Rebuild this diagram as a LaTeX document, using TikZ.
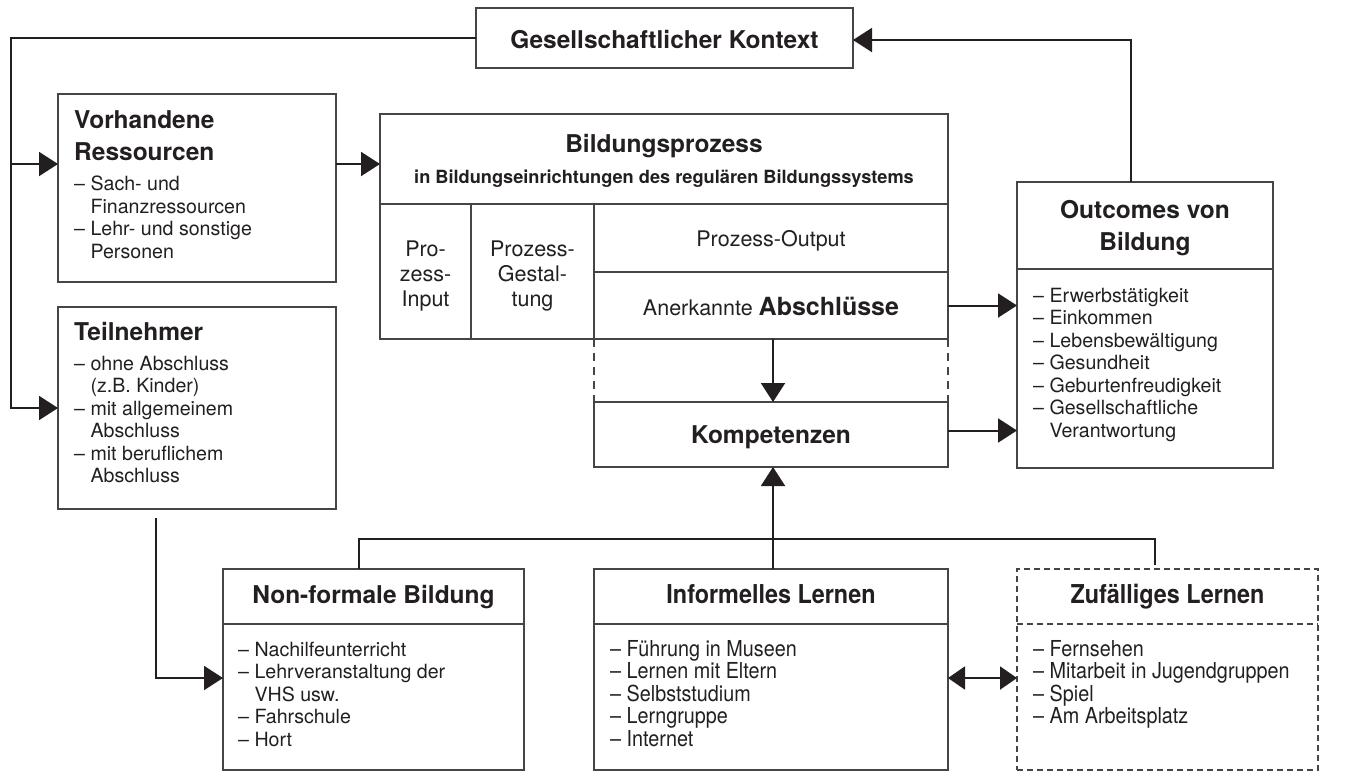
\documentclass[tikz,border=0pt]{standalone}
\usepackage{fontspec}
\setmainfont{TeX Gyre Heros}
\newfontfamily\condfont[FakeStretch=0.9]{TeX Gyre Heros}
\usetikzlibrary{arrows.meta}
\definecolor{ink}{HTML}{231F20}
\definecolor{frame}{HTML}{454545}
\newcommand\ind{\hphantom{– }}
\tikzset{
  boxframe/.style={draw=frame, line width=1.6pt, inner sep=0pt, outer sep=0pt, anchor=north west},
  dashframe/.style={boxframe, line width=1.4pt, dash pattern=on 6pt off 4pt},
  conn/.style={draw=ink, line width=2pt},
  dashconn/.style={draw=frame, line width=1.4pt, dash pattern=on 8pt off 6pt},
  arr/.style={conn, -{Triangle[length=19pt,width=24pt]}},
  darr/.style={conn, {Triangle[length=17pt,width=23pt]}-{Triangle[length=17pt,width=23pt]}},
  ttl/.style={inner sep=0pt, text=ink, font=\fontsize{24.5}{32}\selectfont\bfseries, anchor=base},
  cttl/.style={inner sep=0pt, text=ink, font=\fontsize{26}{32}\selectfont\condfont\bfseries, anchor=base},
  body/.style={inner sep=0pt, text=ink, font=\fontsize{19.6}{22.7}\selectfont, anchor=base west},
  cbody/.style={inner sep=0pt, text=ink, font=\fontsize{22}{22.7}\selectfont\condfont, anchor=base west},
  mid/.style={inner sep=0pt, text=ink, font=\fontsize{21.5}{25}\selectfont, anchor=base},
}
\newcommand\itemlines[5]{%
  \foreach \t [count=\i] in {#5} {\node[#1] (#2-\i) at (#3, {#4+(\i-1)*22.5}) {\t};}%
}
\begin{document}
\begin{tikzpicture}[x=1pt, y=-1pt]
\useasboundingbox (0,0) rectangle (1348,772);

% ---------- boxes ----------
\node[boxframe, minimum width=377pt, minimum height=60pt] (kontext) at (476,8) {};
\node[boxframe, minimum width=278pt, minimum height=188pt] (vorh) at (58,94) {};
\node[boxframe, minimum width=278pt, minimum height=202pt] (teil) at (58,307) {};

\node[boxframe, minimum width=568pt, minimum height=90pt] (bild) at (380,114) {};
\node[boxframe, minimum width=91pt, minimum height=135pt] (cin) at (380,204) {};
\node[boxframe, minimum width=123pt, minimum height=135pt] (cge) at (471,204) {};
\node[boxframe, minimum width=354pt, minimum height=68pt] (cout) at (594,204) {};
\node[boxframe, minimum width=354pt, minimum height=67pt] (absch) at (594,272) {};
\node[boxframe, minimum width=354pt, minimum height=65pt] (komp) at (594,402) {};

\node[boxframe, minimum width=256pt, minimum height=87pt] (outh) at (1017,182) {};
\node[boxframe, minimum width=256pt, minimum height=199pt] (outb) at (1017,269) {};

\node[boxframe, minimum width=301pt, minimum height=201pt] (nonf) at (223,569) {};
\node[boxframe, minimum width=354pt, minimum height=201pt] (info) at (594,569) {};
\node[dashframe, minimum width=301pt, minimum height=201pt] (zuf) at (1017,569) {};
\draw[boxframe] (nonf.west |- 0,624) -- (nonf.east |- 0,624);
\draw[boxframe] (info.west |- 0,624) -- (info.east |- 0,624);
\draw[dashframe] (zuf.west |- 0,624) -- (zuf.east |- 0,624);

% ---------- texts ----------
\node[ttl] (tkontext) at (664.5,48) {Gesellschaftlicher Kontext};

\node[ttl, anchor=base west] (tvorh1) at (74,128) {Vorhandene};
\node[ttl, anchor=base west] (tvorh2) at (74,160) {Ressourcen};
\itemlines{body}{lvorh}{74}{190.7}{{– Sach- und},{\ind Finanzressourcen},{– Lehr- und sonstige},{\ind Personen}}

\node[ttl, anchor=base west] (tteil) at (74,340) {Teilnehmer};
\itemlines{body}{lteil}{74}{370}{{– ohne Abschluss},{\ind (z.B. Kinder)},{– mit allgemeinem},{\ind Abschluss},{– mit beruflichem},{\ind Abschluss}}

\node[ttl] (tbild) at (664,152) {Bildungsprozess};
\node[inner sep=0pt, text=ink, font=\fontsize{18.2}{22}\selectfont\bfseries, anchor=base] (tbild2) at (664,183) {in Bildungseinrichtungen des regulären Bildungssystems};

\node[mid] (tin1) at (425.5,256) {Pro-};
\node[mid] (tin2) at (425.5,281) {zess-};
\node[mid] (tin3) at (425.5,306) {Input};
\node[mid] (tge1) at (532.5,256) {Prozess-};
\node[mid] (tge2) at (532.5,281) {Gestal-};
\node[mid] (tge3) at (532.5,306) {tung};
\node[mid] (tout) at (771,246) {Prozess-Output};
\node[mid] (tabs) at (771,315) {Anerkannte {\fontsize{25}{30}\selectfont\bfseries Abschlüsse}};
\node[ttl] (tkomp) at (771,443) {Kompetenzen};

\node[ttl] (touth1) at (1145,218) {Outcomes von};
\node[ttl] (touth2) at (1145,250) {Bildung};
\itemlines{body}{lout}{1033}{302}{{– Erwerbstätigkeit},{– Einkommen},{– Lebensbewältigung},{– Gesundheit},{– Geburtenfreudigkeit},{– Gesellschaftliche},{\ind Verantwortung}}

\node[ttl] (tnonf) at (373.5,603) {Non-formale Bildung};
\itemlines{body}{lnonf}{238}{656}{{– Nachilfeunterricht},{– Lehrveranstaltung der},{\ind VHS usw.},{– Fahrschule},{– Hort}}

\node[cttl] (tinfo) at (771,603) {Informelles Lernen};
\itemlines{cbody}{linfo}{610}{656}{{– Führung in Museen},{– Lernen mit Eltern},{– Selbststudium},{– Lerngruppe},{– Internet}}

\node[cttl] (tzuf) at (1167.5,603) {Zufälliges Lernen};
\itemlines{cbody}{lzuf}{1033}{656}{{– Fernsehen},{– Mitarbeit in Jugendgruppen},{– Spiel},{– Am Arbeitsplatz}}

% ---------- connectors ----------
\coordinate (cl) at (11,38);
\coordinate (vorhA) at ([yshift=24pt]vorh.west);
\draw[arr, line join=miter] (kontext.west) -- (cl) |- (teil.west);
\draw[arr] (cl |- vorhA) -- (vorhA);
\draw[arr] (vorhA -| vorh.east) -- (vorhA -| bild.west);

\draw[arr, line join=miter] ([xshift=-14pt]outh.north) |- ([yshift=-2pt]kontext.east);
\draw[arr] (absch.east) -- (absch.east -| outb.west);
\coordinate (kompA) at ([yshift=4pt]komp.east);
\draw[arr] (kompA) -- (kompA -| outb.west);

\draw[arr] ([xshift=2pt]absch.south) -- ([xshift=2pt]komp.north);
\draw[dashconn] (absch.south west) -- (komp.north west);
\draw[dashconn] (absch.south east) -- (komp.north east);

\coordinate (tA) at (156,518);
\coordinate (nonfA) at ([yshift=-8.5pt]nonf.west);
\draw[arr, line join=miter] (tA) |- (nonfA);

\coordinate (br) at ([xshift=-12.5pt]zuf.north |- 0,539);
\draw[conn, line join=miter] ([xshift=-14.5pt]nonf.north) |- (br) -- ([xshift=-12.5pt, yshift=4pt]zuf.north);
\draw[arr] ([xshift=2pt]info.north) -- ([xshift=2pt]komp.south);

\draw[darr] ([yshift=-8.5pt]info.east) -- ([yshift=-8.5pt]zuf.west);
\end{tikzpicture}
\end{document}
